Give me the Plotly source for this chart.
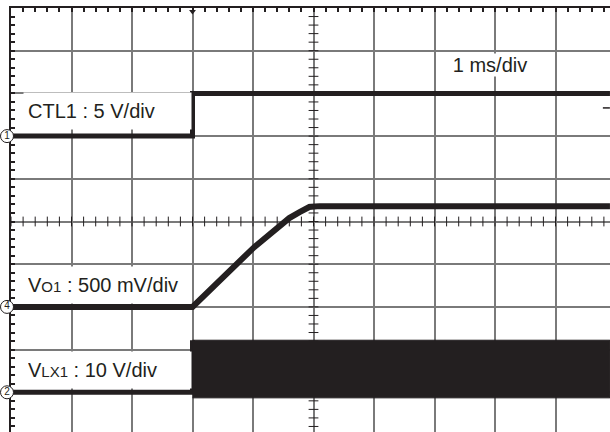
import numpy as np
import plotly.graph_objects as go

# ---------------- data ----------------
# time axis: 1 ms/div, CTL1 rising edge at t = 0 ms
time_window = [-3.0, 6.9]          # visible screen, ms

ch_names = ["CTL1", "Vo1", "VLX1"]
ch_scales = [5.0, 0.5, 10.0]       # V/div
ch_offsets = [7, 3, 1]             # ground marker, divisions from screen bottom
ch_marker_labels = ["1", "4", "2"]

ctl1_t = [-3.0, 0.0, 0.0, 6.9]
ctl1_v = [0.0, 0.0, 5.0, 5.0]

vo1_t = [-3.0, 0.0, 1.02, 1.49, 1.60, 1.77, 1.93, 2.10, 6.9]
vo1_v = [0.0, 0.0, 0.70, 0.98, 1.04, 1.11, 1.17, 1.18, 1.18]

vlx1_t = [-3.0, 0.0]
vlx1_v = [0.0, 0.0]
vlx1_band_t = [0.0, 6.9]
vlx1_band_hi = [12.2, 12.2]
vlx1_band_lo = [-1.3, -1.3]

trigger_time = 0.0
trigger_level_v = 3.3

# ---------------- layout constants ----------------
W, H = 610, 432
ML, MT = 11, 8
PX_PER_DIV_X = 60.5
PX_PER_DIV_Y = 42.7
x_range = [time_window[0], time_window[0] + (W - ML) / PX_PER_DIV_X]
y_top = 10.0
y_bot = y_top - (H - MT) / PX_PER_DIV_Y
INK = "#231f20"
GRID = "#7a7a7a"
FONT = "Liberation Sans, Arial, sans-serif"
MARK_W = 40  # width (px) of the helper subplot holding the channel markers

fig = go.Figure()

# graticule centre-line tick marks (every 0.2 div)
cx = x_range[0] + 5
ticks_x = np.arange(x_range[0], x_range[1] + 1e-9, 0.2)
ticks_y = np.arange(0.2, y_top, 0.2)
fig.add_trace(go.Scatter(x=ticks_x, y=[5] * len(ticks_x), mode="markers",
                         marker=dict(symbol="line-ns", size=7, line=dict(width=1, color=INK)),
                         hoverinfo="skip", showlegend=False))
fig.add_trace(go.Scatter(x=[cx] * len(ticks_y), y=ticks_y, mode="markers",
                         marker=dict(symbol="line-ew", size=7, line=dict(width=1, color=INK)),
                         hoverinfo="skip", showlegend=False))

# trigger position marker on the top edge
fig.add_trace(go.Scatter(x=[trigger_time], y=[y_top - 0.08], mode="markers",
                         marker=dict(symbol="triangle-down", size=6, color=INK),
                         cliponaxis=False, showlegend=False))

# channel traces, each on its own overlaid axis (volts/div + ground offset)
def ch_axis_range(i):
    s, o = ch_scales[i], ch_offsets[i]
    return [(y_bot - o) * s, (y_top - o) * s]

fig.add_trace(go.Scatter(x=ctl1_t, y=ctl1_v, yaxis="y2", mode="lines",
                         line=dict(color=INK, width=5), showlegend=False))
fig.add_trace(go.Scatter(x=[x_range[1] - 0.06], y=[trigger_level_v], yaxis="y2", mode="markers",
                         marker=dict(symbol="line-ew", size=5, line=dict(width=1.5, color=INK)),
                         showlegend=False))
fig.add_trace(go.Scatter(x=vo1_t, y=vo1_v, yaxis="y3", mode="lines",
                         line=dict(color=INK, width=6), showlegend=False))
fig.add_trace(go.Scatter(x=vlx1_t + vlx1_band_t[:1], y=vlx1_v + vlx1_band_hi[:1], yaxis="y4", mode="lines",
                         line=dict(color=INK, width=5), showlegend=False))
fig.add_trace(go.Scatter(x=vlx1_band_t + vlx1_band_t[::-1],
                         y=vlx1_band_hi + vlx1_band_lo[::-1], yaxis="y4",
                         mode="lines", fill="toself", fillcolor=INK,
                         line=dict(color=INK, width=1), showlegend=False))

# channel ground markers (circled numbers at the left edge), own helper subplot
fig.add_trace(go.Scatter(x=[7] * 3, y=ch_offsets, xaxis="x5", yaxis="y5",
                         mode="markers+text",
                         text=ch_marker_labels, textposition="middle center",
                         textfont=dict(family=FONT, size=10, color=INK),
                         marker=dict(symbol="circle", size=13, color="white",
                                     line=dict(color=INK, width=1)),
                         cliponaxis=False, showlegend=False, hoverinfo="skip"))

axis_common = dict(showticklabels=False, zeroline=False, showgrid=True,
                   gridcolor=GRID, gridwidth=1.8, dtick=1,
                   showline=True, linecolor=INK, linewidth=1.5,
                   ticks="inside", ticklen=4, tickwidth=1.5, tickcolor=INK,
                   layer="below traces",
                   minor=dict(dtick=0.2, ticks="inside", ticklen=4, tickwidth=1.5,
                              tickcolor=INK, showgrid=False))

fig.update_layout(
    width=W, height=H,
    margin=dict(l=0, r=0, t=MT, b=0, pad=0),
    paper_bgcolor="white", plot_bgcolor="rgba(0,0,0,0)",
    showlegend=False,
    xaxis=dict(range=x_range, side="top", tick0=0, domain=[ML / W, 1], **axis_common),
    yaxis=dict(range=[y_bot, y_top], side="left", tick0=0, **axis_common),
    yaxis2=dict(range=ch_axis_range(0), overlaying="y", visible=False),
    yaxis3=dict(range=ch_axis_range(1), overlaying="y", visible=False),
    yaxis4=dict(range=ch_axis_range(2), overlaying="y", visible=False),
    xaxis5=dict(range=[0, MARK_W], domain=[0, MARK_W / W], anchor="y5", visible=False),
    yaxis5=dict(range=[y_bot, y_top], domain=[0, 1], anchor="x5", visible=False),
)

small = '<span style="font-size:15px">{}</span>'
labels = [
    ("CTL1 : 5 V/div", -2.80, 8.03),
    ("V" + small.format("O1") + " : 500 mV/div", -2.80, 3.96),
    ("V" + small.format("LX1") + " : 10 V/div", -2.80, 1.97),
]
for txt, x, y in labels:
    fig.add_annotation(text=txt, x=x, y=y, xref="x", yref="y",
                       xanchor="left", yanchor="top", showarrow=False,
                       width=159, height=28, align="left", valign="middle",
                       bgcolor="white", borderpad=4,
                       font=dict(family=FONT, size=20, color=INK))
fig.add_annotation(text="1 ms/div", x=4.08, y=8.95, xref="x", yref="y",
                   xanchor="left", yanchor="top", showarrow=False,
                   width=98, height=20, align="center", valign="middle",
                   bgcolor="white", borderpad=1,
                   font=dict(family=FONT, size=20, color=INK))

fig.write_html("out.html", config={"displayModeBar": False},
               post_script="document.body.style.margin='0px';")
